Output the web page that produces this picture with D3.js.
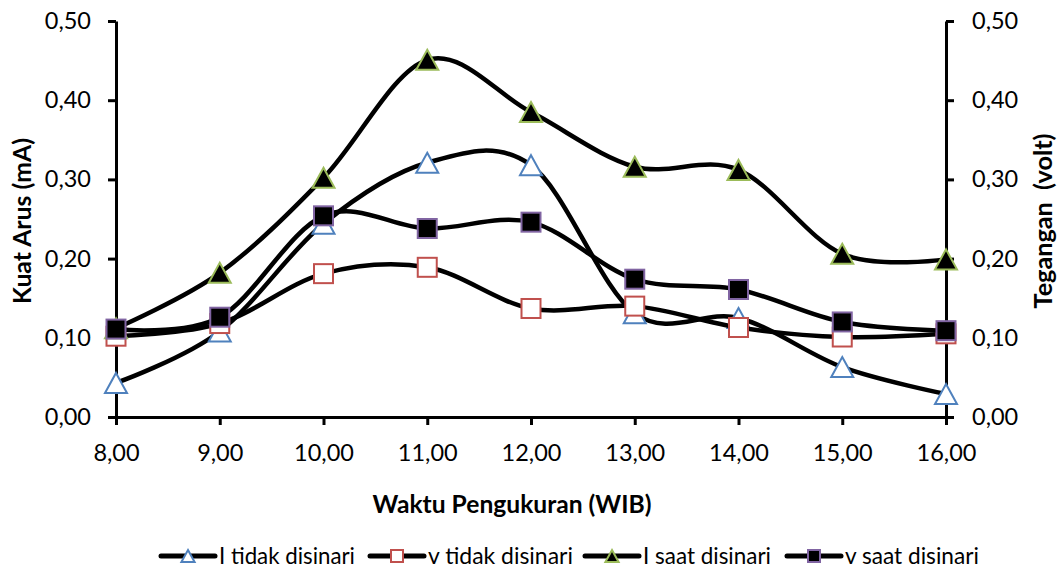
<!DOCTYPE html>
<html>
<head>
<meta charset="utf-8">
<script src="https://cdn.jsdelivr.net/npm/d3@7"></script>
<style>
  html, body { margin: 0; padding: 0; background: #fff; }
  svg { display: block; }
</style>
</head>
<body>
<svg id="chart"></svg>
<script>
/* Kuat arus & tegangan — smoothed line chart, dual axis */

const HOURS   = [8, 9, 10, 11, 12, 13, 14, 15, 16];
const Y_TICKS = [0, 0.1, 0.2, 0.3, 0.4, 0.5];

const I_TIDAK = [0.043, 0.108, 0.244, 0.321, 0.318, 0.131, 0.125, 0.063, 0.029];
const V_TIDAK = [0.102, 0.118, 0.181, 0.189, 0.137, 0.140, 0.113, 0.101, 0.105];
const I_SAAT  = [0.112, 0.182, 0.302, 0.451, 0.385, 0.316, 0.312, 0.206, 0.199];
const V_SAAT  = [0.111, 0.126, 0.254, 0.238, 0.246, 0.174, 0.161, 0.120, 0.109];

const SERIES_NAMES = ['I tidak disinari', 'v tidak disinari', 'I saat disinari', 'v saat disinari'];

const FONT = 'Lato, "Open Sans", "Liberation Sans", sans-serif';

const STYLE = [
  { shape: 'tri', fill: '#FFFFFF', stroke: '#4F81BD' },
  { shape: 'sq',  fill: '#FFFFFF', stroke: '#C0504D' },
  { shape: 'tri', fill: '#000000', stroke: '#9BBB59' },
  { shape: 'sq',  fill: '#000000', stroke: '#8064A2' },
];

const series = [I_TIDAK, V_TIDAK, I_SAAT, V_SAAT].map((vals, i) => ({
  name: SERIES_NAMES[i],
  style: STYLE[i],
  points: HOURS.map((h, j) => ({ x: h, y: vals[j] })),
}));

const W = 1063, H = 570;
const plot = { left: 116, right: 946, top: 21, bottom: 417 };

const svg = d3.select('#chart')
  .attr('width', W)
  .attr('height', H)
  .attr('viewBox', `0 0 ${W} ${H}`);

const x = d3.scaleLinear().domain([8, 16]).range([plot.left, plot.right]);
const y = d3.scaleLinear().domain([0, 0.5]).range([plot.bottom, plot.top]);

const comma = d3.formatLocale({ decimal: ',', thousands: '.', grouping: [3], currency: ['', ''] });
const fmt2  = comma.format('.2f');

// shrink/grow font so text spans a given width
function fit(sel, width) {
  sel.each(function() {
    const fs = parseFloat(this.getAttribute('font-size'));
    const len = this.getComputedTextLength();
    if (len > 0) this.setAttribute('font-size', (fs * width / len).toFixed(2));
  });
}

function marker(g, shape, cx, cy, size, st, sw) {
  if (shape === 'sq') {
    g.append('rect')
      .attr('x', cx - size / 2).attr('y', cy - size / 2)
      .attr('width', size).attr('height', size)
      .attr('fill', st.fill).attr('stroke', st.stroke).attr('stroke-width', sw);
  } else {
    const w = size * 1.1, h = size;
    g.append('path')
      .attr('d', `M${cx},${cy - h / 2}L${cx + w / 2},${cy + h / 2}L${cx - w / 2},${cy + h / 2}Z`)
      .attr('fill', st.fill).attr('stroke', st.stroke).attr('stroke-width', sw)
      .attr('stroke-linejoin', 'miter');
  }
}

/* ── Axes ── */
const styleAxis = ax => {
  ax.select('.domain').attr('stroke', '#000').attr('stroke-width', 3);
  ax.selectAll('.tick line').attr('stroke', '#000').attr('stroke-width', 3);
  ax.selectAll('.tick text')
    .attr('fill', '#000')
    .attr('font-size', 23.5)
    .attr('font-family', FONT);
};

svg.append('g')
  .attr('transform', `translate(${plot.left},0)`)
  .call(d3.axisLeft(y).tickValues(Y_TICKS).tickFormat(fmt2).tickSize(8).tickSizeOuter(0).tickPadding(17))
  .call(styleAxis);

svg.append('g')
  .attr('transform', `translate(${plot.right},0)`)
  .call(d3.axisRight(y).tickValues(Y_TICKS).tickFormat(fmt2).tickSize(8).tickSizeOuter(0).tickPadding(18))
  .call(styleAxis);

svg.append('g')
  .attr('transform', `translate(0,${plot.bottom})`)
  .call(d3.axisBottom(x).tickValues(HOURS).tickFormat(fmt2).tickSize(8).tickSizeOuter(0))
  .call(styleAxis)
  .call(ax => ax.selectAll('.tick text').attr('y', 44).attr('dy', 0));

/* ── Axis titles ── */
svg.append('text')
  .attr('transform', `translate(31,${(plot.top + plot.bottom) / 2 + 2}) rotate(-90)`)
  .attr('text-anchor', 'middle')
  .attr('font-family', FONT).attr('font-weight', 700).attr('font-size', 22)
  .text('Kuat Arus (mA)')
  .call(fit, 166);

svg.append('text')
  .attr('transform', `translate(1052,${(plot.top + plot.bottom) / 2 + 2}) rotate(-90)`)
  .attr('text-anchor', 'middle')
  .attr('font-family', FONT).attr('font-weight', 700).attr('font-size', 22)
  .style('white-space', 'pre')
  .text('Tegangan  (volt)')
  .call(fit, 175);

svg.append('text')
  .attr('x', 512).attr('y', 513)
  .attr('text-anchor', 'middle')
  .attr('font-family', FONT).attr('font-weight', 700).attr('font-size', 22)
  .text('Waktu Pengukuran (WIB)')
  .call(fit, 279);

/* ── Series ── */
const line = d3.line()
  .x(d => x(d.x))
  .y(d => y(d.y))
  .curve(d3.curveCatmullRom.alpha(0));

series.forEach(s => {
  const g = svg.append('g').attr('class', 'series');
  g.append('path')
    .attr('d', line(s.points))
    .attr('fill', 'none')
    .attr('stroke', '#000')
    .attr('stroke-width', 4.5)
    .attr('stroke-linejoin', 'round')
    .attr('stroke-linecap', 'round');
  s.points.forEach(p => marker(g, s.style.shape, x(p.x), y(p.y), s.style.shape === 'sq' ? 19 : 20, s.style, 2));
});

/* ── Legend ── */
const LEG_X    = [161, 370, 585, 787];
const LEG_TEXT = [136, 145, 128, 134];   // text widths in the original
const LEG_Y = 556;
series.forEach((s, i) => {
  const g = svg.append('g').attr('class', 'legend-item');
  const x0 = LEG_X[i];
  g.append('line')
    .attr('x1', x0).attr('x2', x0 + 54)
    .attr('y1', LEG_Y).attr('y2', LEG_Y)
    .attr('stroke', '#000').attr('stroke-width', 5).attr('stroke-linecap', 'round');
  marker(g, s.style.shape, x0 + 27, LEG_Y, 12, s.style, 2);
  g.append('text')
    .attr('x', x0 + 58).attr('y', 564)
    .attr('font-family', FONT).attr('font-size', 21)
    .text(s.name)
    .call(fit, LEG_TEXT[i]);
});
</script>
</body>
</html>
